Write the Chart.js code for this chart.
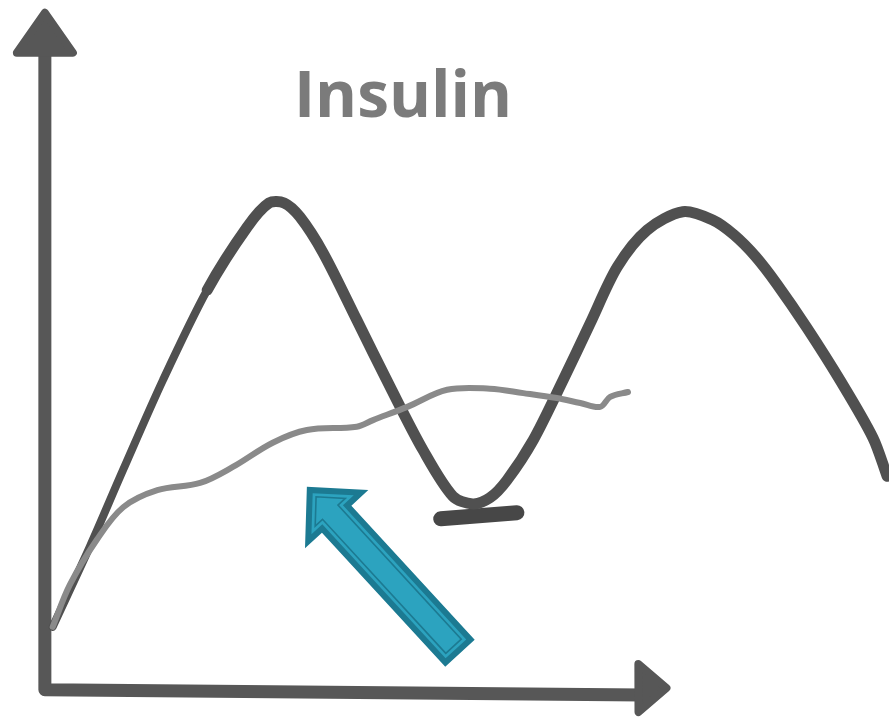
<!DOCTYPE html>
<html>
<head>
<meta charset="utf-8">
<script src="https://cdn.jsdelivr.net/npm/chart.js@4.4.1/dist/chart.umd.min.js"></script>
<style>
  html, body { margin: 0; padding: 0; background: #fff; }
  #wrap { width: 889px; height: 721px; }
</style>
</head>
<body>
<div id="wrap"><canvas id="chart" width="889" height="721"></canvas></div>
<script>
// Hand-drawn insulin sketch: x = time, y = level (arbitrary units)
const titleText = 'Insulin'

// dark curve: two big spikes with a dip between
const spikeX = [0.8, 6.0, 10.7, 16.3, 22.5, 28.1, 31.2, 33.3, 35.5, 38.8, 43.5, 48.2, 52.8, 57.0, 59.8,
  62.2, 64.6, 68.3, 72.5, 76.3, 80.1, 84.3, 89.3, 93.5, 96.5, 99.5, 102.5, 106.7, 111.4, 116.0, 118.0]
const spikeY = [11.1, 25.6, 39.6, 55.9, 72.2, 83.6, 88.0, 88.0, 85.5, 78.9, 66.8, 54.6, 43.2, 34.8, 33.4,
  34.5, 37.7, 45.0, 55.9, 66.2, 76.4, 83.1, 86.4, 84.9, 82.2, 78.3, 73.3, 65.4, 55.8, 45.4, 38.4]

// gray curve: slow, steady rise
const steadyX = [0.8, 3.2, 7.0, 10.7, 15.5, 21.5, 26.1, 31.7, 36.5, 43.5, 45.8, 50.6, 56.2, 62.2, 66.9,
  71.6, 74.9, 77.7, 79.1, 81.6]
const steadyY = [11.1, 18.7, 26.9, 32.8, 35.9, 37.2, 40.1, 44.5, 46.8, 47.4, 48.6, 51.0, 54.1, 54.3, 53.5,
  52.6, 51.7, 51.0, 52.8, 53.7]

// floor mark under the dip
const dipBarX = [55.3, 66.0]
const dipBarY = [30.7, 31.8]

// pointer arrow, tail -> head
const arrowX = [58.0, 36.5]
const arrowY = [6.3, 36.5]

// hand-drawn axes
const axisOriginX = -0.3
const axisOriginY = -0.3
const xAxisEndX = 87.0
const xAxisEndY = -0.9
const yAxisEndY = 122.5

const toPoints = (xs, ys) => xs.map((x, i) => ({ x: x, y: ys[i] }))

function drawHead(ctx, tip, from, len, half) {
  const d = Math.hypot(tip.x - from.x, tip.y - from.y)
  const ux = (tip.x - from.x) / d
  const uy = (tip.y - from.y) / d
  const bx = tip.x - ux * len
  const by = tip.y - uy * len
  ctx.beginPath()
  ctx.moveTo(tip.x, tip.y)
  ctx.lineTo(bx - uy * half, by + ux * half)
  ctx.lineTo(bx + uy * half, by - ux * half)
  ctx.closePath()
  ctx.fill()
  ctx.stroke()
}

function arrowPath(ctx, t, h, w, H, L, d) {
  const dx = h.x - t.x
  const dy = h.y - t.y
  const len = Math.hypot(dx, dy)
  const ux = dx / len, uy = dy / len
  const vx = -uy, vy = ux
  const s = Math.sin(Math.atan2(H, L))
  const tip = len - d / s
  const ub = len - L + d
  const hh = H * (tip - ub) / L
  const ww = w - d
  const pts = [[d, -ww], [ub, -ww], [ub, -hh], [tip, 0], [ub, hh], [ub, ww], [d, ww]]
  ctx.beginPath()
  pts.forEach(([u, v], i) => {
    const x = t.x + ux * u + vx * v
    const y = t.y + uy * u + vy * v
    if (i) ctx.lineTo(x, y)
    else ctx.moveTo(x, y)
  })
  ctx.closePath()
}

const sketchAxes = {
  id: 'sketchAxes',
  beforeDatasetsDraw(chart) {
    const { ctx, scales: { x, y } } = chart
    const o = { x: x.getPixelForValue(axisOriginX), y: y.getPixelForValue(axisOriginY) }
    const yTip = { x: o.x, y: y.getPixelForValue(yAxisEndY) }
    const xTip = { x: x.getPixelForValue(xAxisEndX), y: y.getPixelForValue(xAxisEndY) }

    ctx.save()
    ctx.strokeStyle = '#575757'
    ctx.fillStyle = '#575757'
    ctx.lineCap = 'round'
    ctx.lineJoin = 'round'

    // shafts
    ctx.lineWidth = 13
    ctx.beginPath()
    ctx.moveTo(o.x, yTip.y + 30)
    ctx.lineTo(o.x, o.y)
    ctx.lineTo(xTip.x - 24, xTip.y + 2)
    ctx.stroke()

    // arrow heads
    ctx.lineWidth = 8
    drawHead(ctx, yTip, o, 40, 28)
    drawHead(ctx, { x: xTip.x, y: xTip.y - 5 }, o, 28, 24)
    ctx.restore()
  },
  afterDatasetsDraw(chart) {
    const { ctx, scales: { x, y } } = chart
    const t = { x: x.getPixelForValue(arrowX[0]), y: y.getPixelForValue(arrowY[0]) }
    const h = { x: x.getPixelForValue(arrowX[1]), y: y.getPixelForValue(arrowY[1]) }

    ctx.save()
    ctx.lineJoin = 'miter'
    arrowPath(ctx, t, h, 20, 43, 44, 0)
    ctx.fillStyle = '#1c7a92'
    ctx.fill()
    arrowPath(ctx, t, h, 20, 43, 44, 6)
    ctx.fillStyle = '#2ca3bf'
    ctx.fill()
    arrowPath(ctx, t, h, 20, 43, 44, 9.5)
    ctx.strokeStyle = '#1c7a92'
    ctx.lineWidth = 1.6
    ctx.stroke()
    ctx.restore()
  }
}

new Chart(document.getElementById('chart'), {
  type: 'line',
  data: {
    datasets: [
      {
        label: 'Steady',
        data: toPoints(steadyX, steadyY),
        borderColor: '#8a8a8a',
        borderWidth: 6,
        borderCapStyle: 'round',
        borderJoinStyle: 'round',
        tension: 0.35,
        pointRadius: 0,
        clip: false
      },
      {
        label: 'Spikes',
        data: toPoints(spikeX, spikeY),
        borderColor: '#505050',
        borderWidth: 11,
        borderCapStyle: 'round',
        borderJoinStyle: 'round',
        tension: 0.3,
        pointRadius: 0,
        clip: false,
        segment: {
          // thinner pen stroke on the first climb
          borderWidth: ctx => ctx.p0DataIndex < 4 ? 8 : 11
        }
      },
      {
        label: 'Dip floor',
        data: toPoints(dipBarX, dipBarY),
        borderColor: '#474747',
        borderWidth: 15,
        borderCapStyle: 'round',
        pointRadius: 0,
        clip: false
      }
    ]
  },
  options: {
    responsive: false,
    animation: false,
    layout: { padding: { left: 47, right: 130, top: 0, bottom: 33 } },
    scales: {
      // range fixed after data limits so points past the right edge still draw
      x: {
        type: 'linear', display: false,
        afterDataLimits: (scale) => { scale.min = 0; scale.max = 100 }
      },
      y: { type: 'linear', min: 0, max: 100, display: false }
    },
    plugins: {
      legend: { display: false },
      tooltip: { enabled: false },
      title: {
        display: true,
        text: titleText,
        color: '#7b7b7b',
        font: { family: "'Open Sans', 'Noto Sans', sans-serif", size: 64, weight: 'bold', lineHeight: 1.2 },
        padding: { top: 60, bottom: 0 }
      }
    }
  },
  plugins: [sketchAxes]
})
</script>
</body>
</html>
